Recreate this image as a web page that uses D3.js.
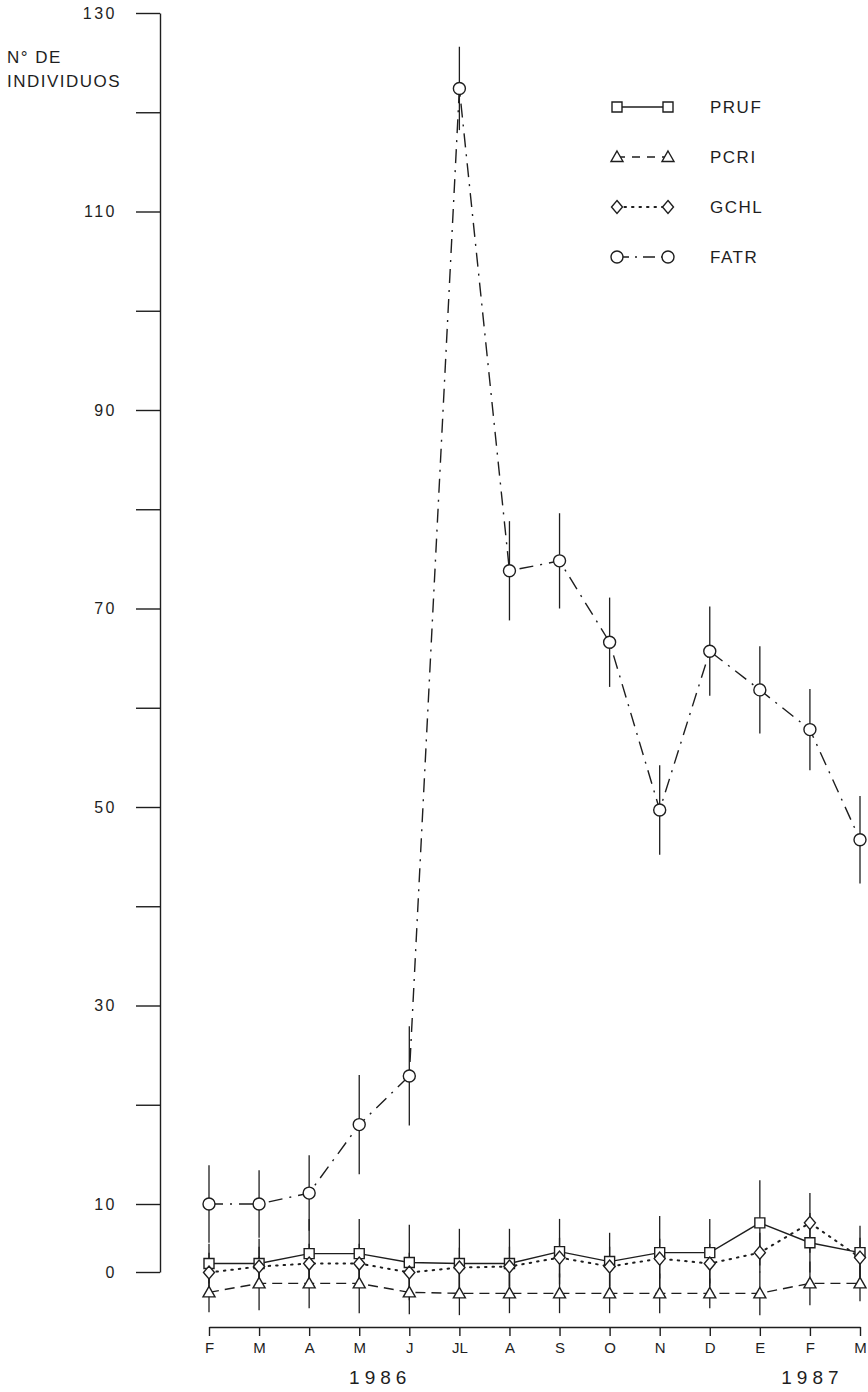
<!DOCTYPE html>
<html><head><meta charset="utf-8">
<script src="https://cdn.jsdelivr.net/npm/d3@7/dist/d3.min.js"></script>
<style>body{margin:0;background:#fff}svg{display:block}</style>
</head><body><svg id="c" width="868" height="1392"></svg>
<script>
// ---- data ----
const months = ["F","M","A","M","J","JL","A","S","O","N","D","E","F","M"];
const years = ["1986","1987"];
const yearIndex = [3.42, 12.05];
const yTicks = [0,10,20,30,40,50,60,70,80,90,100,110,120,130];
const yTickLabels = [0,10,30,50,70,90,110,130];
const seriesNames = ["PRUF","PCRI","GCHL","FATR"];
const pruf    = [4,4,5,5,4.1,4,4,5.2,4.2,5.1,5.1,8.1,6.1,5.1];
const prufErr = [2,2.5,3.5,3.5,3.8,3.5,3.5,3.3,2.9,3.7,3.4,4.3,3,2.7];
const pcri    = [1.1,2,2,2,1.1,1,1,1,1,1,1,1,2,2];
const pcriErr = [2,2.7,2.5,3,2.2,2.2,2,2,2,2,1.5,2.2,2.2,1.8];
const gchl    = [3.1,3.7,4,4,3.1,3.6,3.7,4.6,3.7,4.5,4,5.1,8.1,4.6];
const gchlErr = [2,2,2,2,2,2,2,2,2,2,2,2,3,2];
const fatr    = [10,10,11.1,18,22.9,122.4,73.8,74.8,66.6,49.7,65.7,61.8,57.8,46.7];
const fatrErr = [3.9,3.4,3.8,5,5,4.2,5,4.8,4.5,4.5,4.5,4.4,4.1,4.4];

// ---- setup ----
const svg = d3.select("#c");
const ink = "#1e1e1e";
const font = "'Liberation Sans', Arial, sans-serif";
const x = d3.scaleLinear().domain([0, months.length-1]).range([209, 860]);
const y = d3.scaleLinear().domain([10,130]).range([1204,13]);
const yAxisScale = d3.scaleLinear().domain([0,10,130]).range([1272,1204,13]);

// y axis
const yAxis = svg.append("g").attr("transform","translate(160,0)")
  .call(d3.axisLeft(yAxisScale).tickValues(yTicks).tickSize(24).tickSizeOuter(0).tickPadding(19)
    .tickFormat(d => yTickLabels.includes(d) ? d : ""));
yAxis.selectAll("path,line").attr("stroke", ink).attr("stroke-width",1.4);
yAxis.selectAll("text").attr("font-family",font).attr("font-size",16).attr("fill",ink)
  .attr("letter-spacing",2.5);

// axis title
svg.append("text").attr("x",7).attr("y",63).attr("font-family",font).attr("font-size",17)
  .attr("letter-spacing",1.5).attr("fill",ink).text("N\u00B0 DE");
svg.append("text").attr("x",7).attr("y",87).attr("font-family",font).attr("font-size",17)
  .attr("letter-spacing",1.5).attr("fill",ink).text("INDIVIDUOS");

// x axis
const xAxis = svg.append("g").attr("transform","translate(0,1327)")
  .call(d3.axisBottom(x).tickValues(d3.range(months.length)).tickSize(9).tickSizeOuter(0).tickPadding(6)
    .tickFormat(i => months[i]));
xAxis.selectAll("path,line").attr("stroke", ink).attr("stroke-width",1.4);
xAxis.selectAll("text").attr("font-family",font).attr("font-size",15).attr("fill",ink);

years.forEach((t,i) => {
  svg.append("text").attr("x", x(yearIndex[i])).attr("y",1384).attr("text-anchor","middle")
    .attr("font-family",font).attr("font-size",19).attr("letter-spacing",5).attr("fill",ink).text(t);
});

// series definitions
const series = [
  {name:"PRUF", vals:pruf, err:prufErr, dash:null, marker:"square"},
  {name:"PCRI", vals:pcri, err:pcriErr, dash:"10,6", marker:"triangle"},
  {name:"GCHL", vals:gchl, err:gchlErr, dash:"1.5,6", marker:"diamond"},
  {name:"FATR", vals:fatr, err:fatrErr, dash:"14,7,2,7", marker:"circle"}
];

function drawMarker(g, type, cx, cy) {
  const s = g.append("path").attr("fill","#fff").attr("stroke",ink).attr("stroke-width",1.4);
  let p = d3.path();
  if (type==="square") { p.rect(cx-5, cy-5, 10, 10); }
  else if (type==="triangle") { p.moveTo(cx, cy-6); p.lineTo(cx+6, cy+4.5); p.lineTo(cx-6, cy+4.5); p.closePath(); }
  else if (type==="diamond") { p.moveTo(cx, cy-6.5); p.lineTo(cx+5.5, cy); p.lineTo(cx, cy+6.5); p.lineTo(cx-5.5, cy); p.closePath(); }
  else { p.arc(cx, cy, 6, 0, 2*Math.PI); p.closePath(); }
  s.attr("d", p.toString());
}

// error bars
const eg = svg.append("g");
series.forEach(s => {
  s.vals.forEach((v,i) => {
    eg.append("line").attr("x1",x(i)).attr("x2",x(i))
      .attr("y1",y(v + s.err[i])).attr("y2",y(v - s.err[i]))
      .attr("stroke",ink).attr("stroke-width",1.3);
  });
});

// lines
const line = d3.line().x((d,i)=>x(i)).y(d=>y(d));
series.forEach(s => {
  svg.append("path").datum(s.vals).attr("d",line).attr("fill","none")
    .attr("stroke",ink)
    .attr("stroke-linecap", s.marker==="diamond" ? "round" : "butt")
    .attr("stroke-width", s.marker==="diamond" ? 2 : 1.4)
    .attr("stroke-dasharray", s.dash);
});

// markers
const mg = svg.append("g");
series.forEach(s => {
  s.vals.forEach((v,i) => drawMarker(mg, s.marker, x(i), y(v)));
});

// legend
const legY = d3.scalePoint().domain(seriesNames).range([107,257]);
const lg = svg.append("g");
series.forEach(s => {
  const yy = legY(s.name);
  lg.append("line").attr("x1",617).attr("x2",668).attr("y1",yy).attr("y2",yy)
    .attr("stroke",ink).attr("stroke-width", s.marker==="diamond" ? 2 : 1.4)
    .attr("stroke-linecap", s.marker==="diamond" ? "round" : "butt")
    .attr("stroke-dasharray", s.marker==="diamond" ? "1.5,6" : (s.marker==="triangle" ? "8,7" : (s.marker==="circle" ? "12,6,2,6" : null)));
  drawMarker(lg, s.marker, 617, yy);
  drawMarker(lg, s.marker, 668, yy);
  lg.append("text").attr("x",710).attr("y",yy+6).attr("font-family",font).attr("font-size",17)
    .attr("letter-spacing",1.5).attr("fill",ink).text(s.name);
});
</script>
</body></html>
